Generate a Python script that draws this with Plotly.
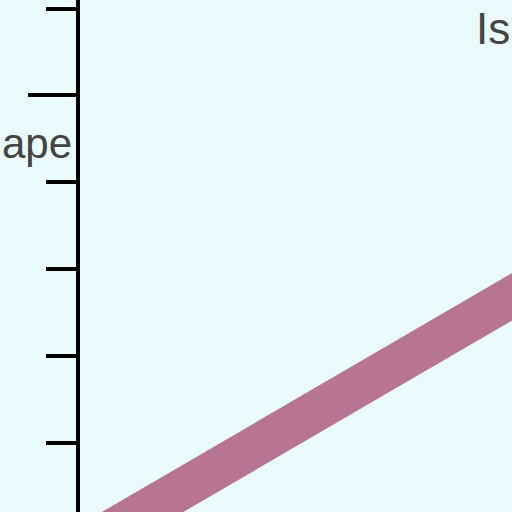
import plotly.graph_objects as go

# Data (zoomed-in fragment of a larger chart)
line_x = [-0.5, 10.5]
line_y = [-1.365, 1.825]

major_ticks = [4]
minor_ticks = [0, 1, 2, 3, 5]

label_text = "ape"
label_y = 3.45
corner_text = "Is"

fig = go.Figure()
fig.add_trace(go.Scatter(
    x=line_x, y=line_y, mode='lines',
    line=dict(color='#b77592', width=41),
    showlegend=False, hoverinfo='skip'
))

fig.add_annotation(
    text=label_text, xref='paper', yref='y',
    x=-6 / 432, y=label_y, xanchor='right', yanchor='middle',
    showarrow=False, font=dict(size=42, color='#444', family='Liberation Sans, Arial')
)
fig.add_annotation(
    text=corner_text, xref='paper', yref='paper',
    x=1, y=1 - 28 / 512, xanchor='right', yanchor='middle',
    showarrow=False, font=dict(size=44, color='#444', family='Liberation Sans, Arial')
)

fig.update_layout(
    width=512, height=512,
    margin=dict(l=80, r=0, t=0, b=0),
    plot_bgcolor='#e9fbfc',
    paper_bgcolor='#e9fbfc',
    showlegend=False,
    xaxis=dict(range=[0, 10], visible=False, showgrid=False, zeroline=False),
    yaxis=dict(
        range=[-0.8, 5.099],
        showgrid=False, zeroline=False,
        showline=True, linecolor='black', linewidth=4,
        tickvals=major_ticks, showticklabels=False,
        ticks='outside', ticklen=48, tickwidth=4, tickcolor='black',
        minor=dict(tickvals=minor_ticks, ticks='outside', ticklen=30,
                   tickwidth=4, tickcolor='black', showgrid=False),
    ),
)

# remove the browser's default page margin so the figure fills the window
fig.write_html(
    "out.html",
    config={'displayModeBar': False},
    post_script="document.body.style.margin='0';document.body.style.background='#e9fbfc';",
)
